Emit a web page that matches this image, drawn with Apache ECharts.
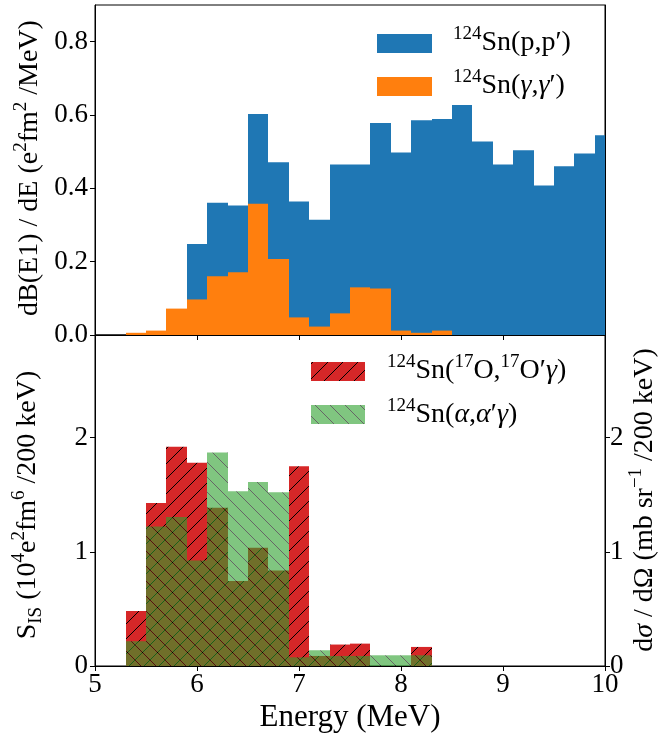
<!DOCTYPE html>
<html>
<head>
<meta charset="utf-8">
<script src="https://cdn.jsdelivr.net/npm/echarts@6/dist/echarts.min.js"></script>
<style>
html, body { margin: 0; padding: 0; background: #fff; }
#main { width: 659px; height: 740px; }
</style>
</head>
<body>
<div id="main"></div>
<script>
// bins are 200 keV wide, listed by their lower edge (MeV)
var binWidth = 0.2;

// top panel: dB(E1)/dE
var ppBins = [5.9, 6.1, 6.3, 6.5, 6.7, 6.9, 7.1, 7.3, 7.5, 7.7, 7.9, 8.1, 8.3, 8.5, 8.7, 8.9, 9.1, 9.3, 9.5, 9.7, 9.9];
var ppValues = [0.248, 0.361, 0.353, 0.603, 0.471, 0.364, 0.314, 0.465, 0.465, 0.578, 0.498, 0.586, 0.589, 0.627, 0.528, 0.465, 0.504, 0.408, 0.460, 0.495, 0.545];
var ggBins = [5.3, 5.5, 5.7, 5.9, 6.1, 6.3, 6.5, 6.7, 6.9, 7.1, 7.3, 7.5, 7.7, 7.9, 8.1, 8.3];
var ggValues = [0.006, 0.012, 0.072, 0.097, 0.160, 0.171, 0.358, 0.207, 0.048, 0.023, 0.059, 0.130, 0.127, 0.012, 0.006, 0.012];

// bottom panel: S_IS and dsigma/dOmega
var lowBins = [5.3, 5.5, 5.7, 5.9, 6.1, 6.3, 6.5, 6.7, 6.9, 7.1, 7.3, 7.5, 7.7, 7.9, 8.1];
var oxyValues = [0.481, 1.428, 1.921, 1.780, 1.387, 0.745, 1.035, 0.836, 1.751, 0.088, 0.188, 0.196, 0, 0, 0.167];
var alphaValues = [0.217, 1.223, 1.305, 0.924, 1.871, 1.531, 1.613, 1.522, 0.076, 0.138, 0.088, 0.088, 0.094, 0.094, 0.094];

var xTicks = [5, 6, 7, 8, 9, 10];
var topTicks = [0, 0.2, 0.4, 0.6, 0.8];
var bottomTicks = [0, 1, 2];

var FONT = "'Liberation Serif', 'DejaVu Serif', serif";

function toRows(bins, values) {
  return bins.map(function (b, i) { return [b, b + binWidth, values[i]]; });
}

// hatch tiles, '/' or '\'
function hatch(bg, dir) {
  var s = 15;
  var c = document.createElement('canvas');
  c.width = s; c.height = s;
  var ctx = c.getContext('2d');
  ctx.fillStyle = bg;
  ctx.fillRect(0, 0, s, s);
  ctx.strokeStyle = '#000';
  ctx.lineWidth = 1;
  for (var k = -s; k <= s; k += s) {
    ctx.beginPath();
    if (dir === '/') { ctx.moveTo(k, s); ctx.lineTo(k + s, 0); }
    else { ctx.moveTo(k, 0); ctx.lineTo(k + s, s); }
    ctx.stroke();
  }
  return { image: c, repeat: 'repeat' };
}
var redHatch = hatch('#d62728', '/');
var greenHatch = hatch('#2ca02c', '\\');

function histogram(fill, opacity) {
  return function (params, api) {
    var p0 = api.coord([api.value(0), api.value(2)]);
    var p1 = api.coord([api.value(1), 0]);
    var x0 = Math.round(p0[0]), x1 = Math.round(p1[0]);
    var cs = params.coordSys;
    var shape = echarts.graphic.clipRectByRect(
      { x: x0, y: p0[1], width: x1 - x0, height: p1[1] - p0[1] },
      { x: cs.x, y: cs.y, width: cs.width, height: cs.height }
    );
    if (!shape || shape.height <= 0) return null;
    return { type: 'rect', shape: shape, style: { fill: fill, opacity: opacity } };
  };
}

var richStyles = {
  n: { fontFamily: FONT, fontSize: 28, lineHeight: 36, verticalAlign: 'middle', color: '#000' },
  i: { fontFamily: FONT, fontSize: 28, lineHeight: 36, verticalAlign: 'middle', fontStyle: 'italic', color: '#000' },
  sup: { fontFamily: FONT, fontSize: 19, lineHeight: 24, verticalAlign: 'top', color: '#000' },
  sub: { fontFamily: FONT, fontSize: 19, lineHeight: 22, verticalAlign: 'bottom', color: '#000' }
};

function label(x, y, text, rot) {
  return {
    type: 'text', x: x, y: y, rotation: rot || 0, z: 100,
    style: { text: text, rich: richStyles, align: rot ? 'center' : 'left', verticalAlign: 'middle' }
  };
}

var tickLabel = { fontFamily: FONT, fontSize: 27, color: '#000' };
var axisLine = { show: true, lineStyle: { color: '#000', width: 1 } };
var axisTick = { show: true, length: 5, lineStyle: { color: '#000', width: 1 } };

var chart = echarts.init(document.getElementById('main'), null, { renderer: 'canvas' });

var option = {
  animation: false,
  backgroundColor: '#fff',
  grid: [
    { left: 95, right: 54, top: 5, height: 330, show: true, borderColor: '#000', borderWidth: 1, containLabel: false },
    { left: 95, right: 54, top: 335, height: 331, show: true, borderColor: '#000', borderWidth: 1, containLabel: false }
  ],
  xAxis: [
    {
      gridIndex: 0, type: 'value', min: 5, max: 10, interval: 1, z: 10,
      axisLine: axisLine, axisTick: axisTick, axisLabel: { show: false }, splitLine: { show: false }
    },
    {
      gridIndex: 1, type: 'value', min: 5, max: 10, interval: 1, z: 10,
      axisLine: axisLine, axisTick: axisTick, splitLine: { show: false },
      axisLabel: Object.assign({ margin: 5, customValues: xTicks }, tickLabel),
      name: 'Energy (MeV)', nameLocation: 'middle', nameGap: 36,
      nameTextStyle: { fontFamily: FONT, fontSize: 31, color: '#000' }
    }
  ],
  yAxis: [
    {
      gridIndex: 0, type: 'value', min: 0, max: 0.9, z: 10,
      axisLine: axisLine, splitLine: { show: false },
      axisTick: Object.assign({ customValues: topTicks }, axisTick),
      axisLabel: Object.assign({ margin: 7, customValues: topTicks, formatter: function (v) { return v.toFixed(1); } }, tickLabel)
    },
    {
      gridIndex: 0, type: 'value', min: 0, max: 0.9, position: 'right', z: 10,
      axisLine: axisLine, axisTick: { show: false }, axisLabel: { show: false }, splitLine: { show: false }
    },
    {
      gridIndex: 1, type: 'value', min: 0, max: 2.9, z: 10,
      axisLine: axisLine, splitLine: { show: false },
      axisTick: Object.assign({ customValues: bottomTicks }, axisTick),
      axisLabel: Object.assign({ margin: 7, customValues: bottomTicks }, tickLabel)
    },
    {
      gridIndex: 1, type: 'value', min: 0, max: 2.9, position: 'right', z: 10,
      axisLine: axisLine, splitLine: { show: false },
      axisTick: Object.assign({ customValues: bottomTicks }, axisTick),
      axisLabel: Object.assign({ margin: 5, customValues: bottomTicks }, tickLabel)
    }
  ],
  series: [
    {
      name: '124Sn(p,p\u2032)', type: 'custom', xAxisIndex: 0, yAxisIndex: 0,
      renderItem: histogram('#1f77b4', 1), encode: { x: [0, 1], y: 2 },
      data: toRows(ppBins, ppValues)
    },
    {
      name: '124Sn(\u03b3,\u03b3\u2032)', type: 'custom', xAxisIndex: 0, yAxisIndex: 0,
      renderItem: histogram('#ff7f0e', 1), encode: { x: [0, 1], y: 2 },
      data: toRows(ggBins, ggValues)
    },
    {
      name: '124Sn(17O,17O\u2032\u03b3)', type: 'custom', xAxisIndex: 1, yAxisIndex: 2,
      renderItem: histogram(redHatch, 1), encode: { x: [0, 1], y: 2 },
      data: toRows(lowBins, oxyValues)
    },
    {
      name: '124Sn(\u03b1,\u03b1\u2032\u03b3)', type: 'custom', xAxisIndex: 1, yAxisIndex: 2,
      renderItem: histogram(greenHatch, 0.6), encode: { x: [0, 1], y: 2 },
      data: toRows(lowBins, alphaValues)
    }
  ],
  graphic: [
    // legends
    { type: 'rect', shape: { x: 377, y: 34, width: 55, height: 19 }, style: { fill: '#1f77b4' }, z: 100 },
    label(453, 43, '{sup|124}{n|Sn(p,p\u2032)}'),
    { type: 'rect', shape: { x: 377, y: 77, width: 55, height: 19 }, style: { fill: '#ff7f0e' }, z: 100 },
    label(453, 86, '{sup|124}{n|Sn(}{i|\u03b3}{n|,}{i|\u03b3}{n|\u2032)}'),
    { type: 'rect', shape: { x: 311, y: 362, width: 54, height: 19 }, style: { fill: redHatch }, z: 100 },
    label(387, 371, '{sup|124}{n|Sn(}{sup|17}{n|O,}{sup|17}{n|O\u2032}{i|\u03b3}{n|)}'),
    { type: 'rect', shape: { x: 311, y: 405, width: 54, height: 19 }, style: { fill: greenHatch, opacity: 0.6 }, z: 100 },
    label(387, 415, '{sup|124}{n|Sn(}{i|\u03b1}{n|,}{i|\u03b1}{n|\u2032}{i|\u03b3}{n|)}'),
    // axis titles
    label(30, 168, '{n|dB(E1) / dE (e}{sup|2}{n|fm}{sup|2}{n| /MeV)}', Math.PI / 2),
    label(28, 505, '{n|S}{sub|IS}{n| (10}{sup|4}{n|e}{sup|2}{n|fm}{sup|6}{n| /200 keV)}', Math.PI / 2),
    label(645, 500, '{n|d}{i|\u03c3}{n| / d\u03a9 (mb sr}{sup|\u22121}{n| /200 keV)}', Math.PI / 2)
  ]
};

chart.setOption(option);
</script>
</body>
</html>
